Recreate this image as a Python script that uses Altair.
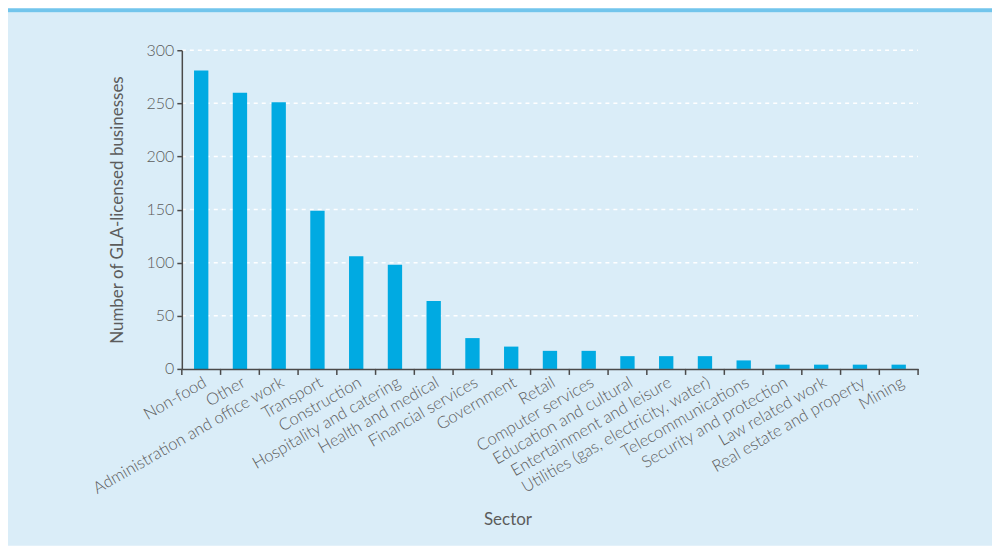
import altair as alt
import pandas as pd

sectors = ["Non-food", "Other", "Administration and office work", "Transport",
           "Construction", "Hospitality and catering", "Health and medical",
           "Financial services", "Government", "Retail", "Computer services",
           "Education and cultural", "Entertainment and leisure",
           "Utilities (gas, electricity, water)", "Telecommunications",
           "Security and protection", "Law related work",
           "Real estate and property", "Mining"]
counts = [281, 260, 251, 149, 106, 98, 64, 29, 21, 17, 17, 12, 12, 12, 8, 4, 4, 4, 4]
y_ticks = [0, 50, 100, 150, 200, 250, 300]

df = pd.DataFrame({"sector": sectors, "count": counts})
grid_df = pd.DataFrame({"count": y_ticks[1:]})

W, H = 737, 319
FONT = "Lato"
TXT = "#5c5c5c"
AX = "#4a4a4a"

xscale = alt.Scale(domain=sectors, paddingInner=0, paddingOuter=0)
yscale = alt.Scale(domain=[0, 300])

y_axis = alt.Axis(title="Number of GLA-licensed businesses", values=y_ticks,
                  grid=False, tickSize=5, tickColor=AX, tickWidth=1.5,
                  domainColor=AX, domainWidth=1.5,
                  labelFontSize=16, labelColor=TXT, labelFont=FONT, labelPadding=3,
                  labelFontWeight=300,
                  titleFont=FONT, titleFontSize=17, titleFontWeight="normal",
                  titleColor=TXT, titleX=-64, titleY=H / 2, titleAngle=-90,
                  titleAlign="center", titleBaseline="middle", zindex=1)

one = alt.Data(values=[{"a": 1}])

panel = alt.Chart(one).mark_rect(color="#daedf8").encode(
    x=alt.value(-174), x2=alt.value(811), y=alt.value(-38), y2=alt.value(496))
stripe = alt.Chart(one).mark_rect(color="#72c5ec").encode(
    x=alt.value(-174), x2=alt.value(811), y=alt.value(-42), y2=alt.value(-38))

grid = alt.Chart(grid_df).mark_rule(color="white", strokeWidth=1.5, strokeDash=[4, 4]).encode(
    y=alt.Y("count:Q", scale=yscale, axis=y_axis),
    x=alt.value(0), x2=alt.value(W))

bars = alt.Chart(df).mark_bar(color="#00aae2", width={"band": 0.37}).encode(
    x=alt.X("sector:N", sort=sectors, scale=xscale,
            axis=alt.Axis(title="Sector", labelAngle=-30, labelAlign="right",
                          labelBaseline="top", labelPadding=5, ticks=False,
                          labelFontSize=16.5, labelColor=TXT, labelFont=FONT,
                          labelFontWeight=300,
                          labelLimit=400,
                          domainColor=AX, domainWidth=1.5,
                          titleFont=FONT, titleFontSize=17, titleFontWeight="normal",
                          titleColor=TXT, titleX=326, titleY=151,
                          titleAlign="center", titleBaseline="middle", zindex=1)),
    y=alt.Y("count:Q", scale=yscale, axis=y_axis))

ticks = alt.Chart(df).mark_rule(color=AX, strokeWidth=1.5).encode(
    x=alt.X("sector:N", sort=sectors, scale=xscale, bandPosition=0),
    y=alt.value(H), y2=alt.value(H + 6))
end_tick = alt.Chart(one).mark_rule(color=AX, strokeWidth=1.5).encode(
    x=alt.value(W), y=alt.value(H), y2=alt.value(H + 6))

chart = alt.layer(panel, stripe, grid, bars, ticks, end_tick).properties(
    width=W, height=H, padding=0, background="white"
).configure_view(stroke=None)

chart.save("out.html", embed_options={"renderer": "svg", "actions": False})
